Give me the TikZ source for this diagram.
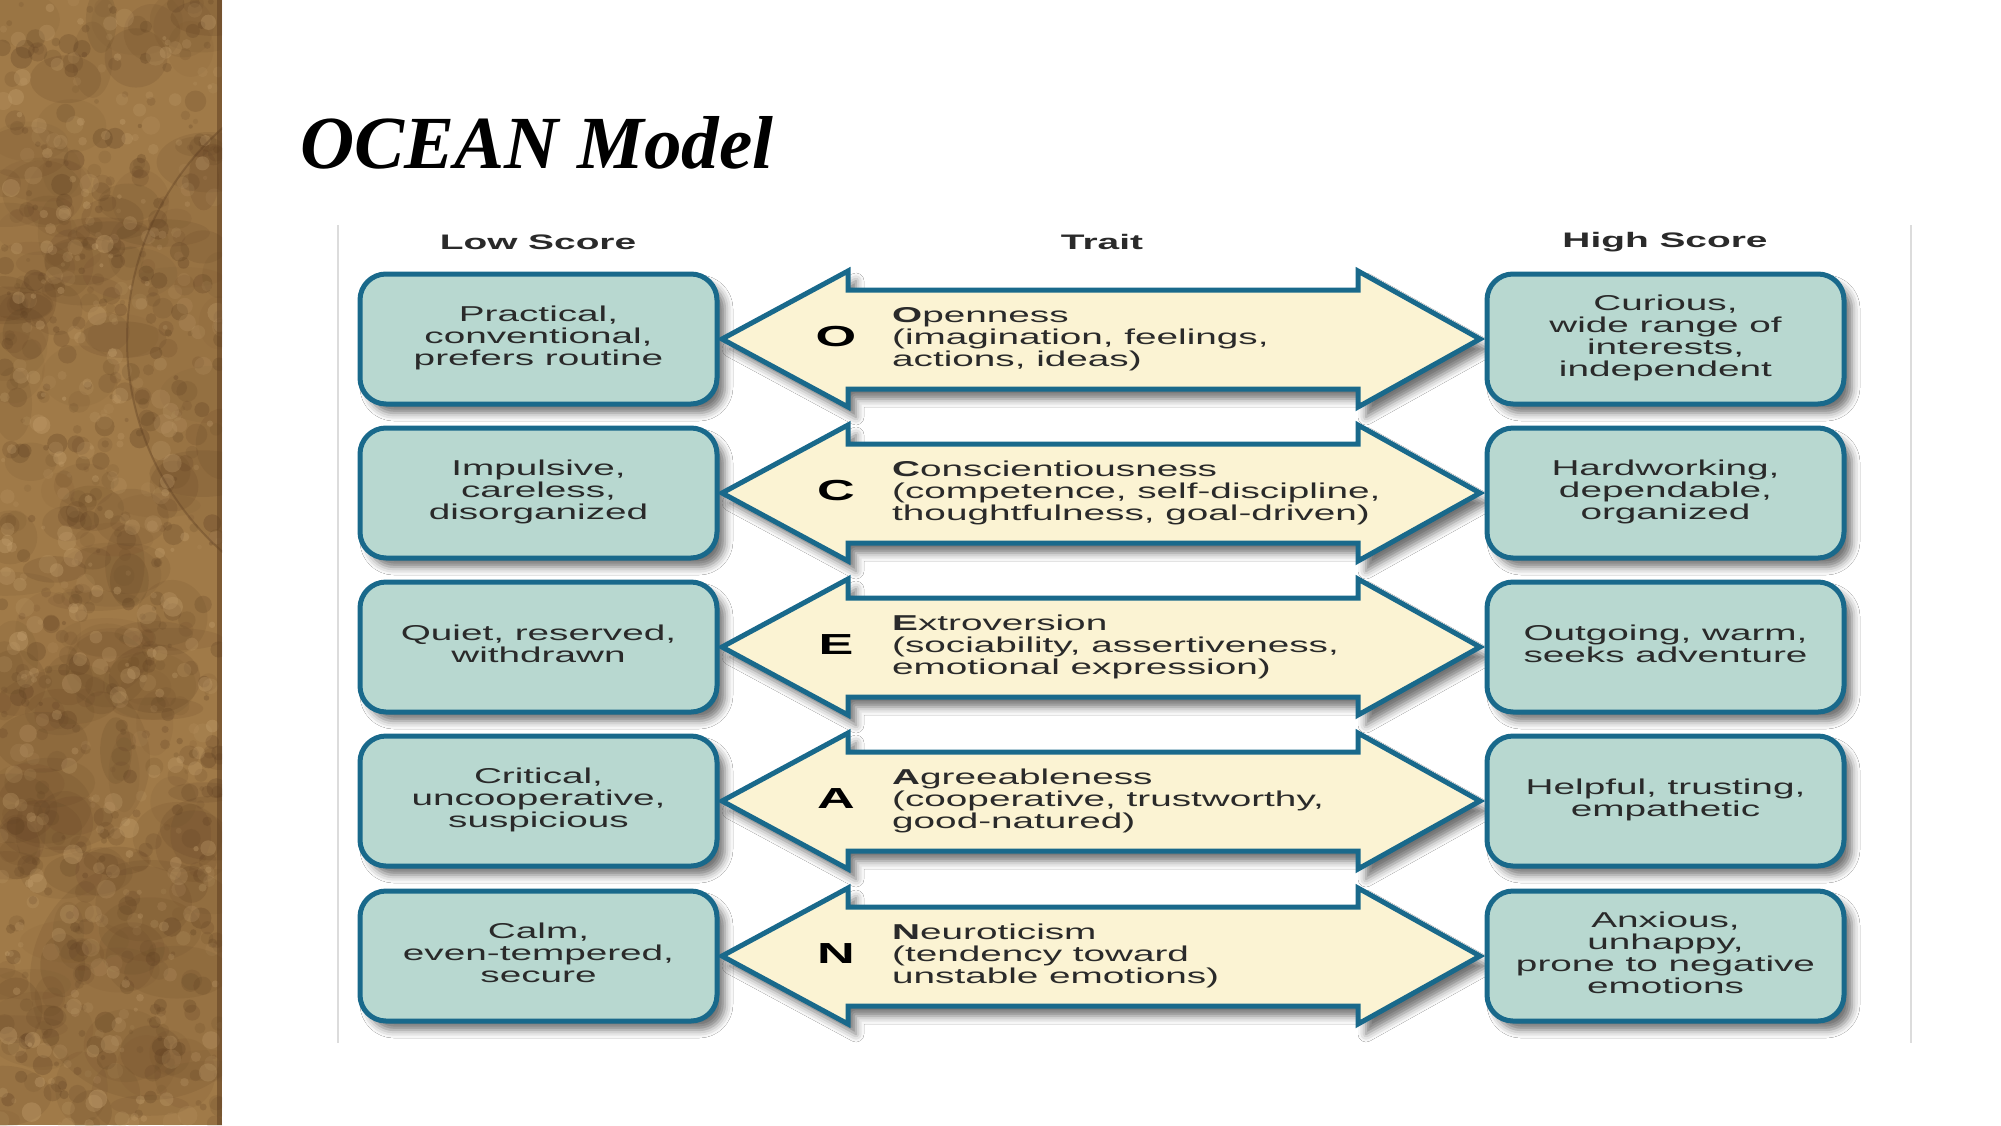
\documentclass[tikz,border=0pt]{standalone}
\usepackage{graphicx}
\usepackage{fontspec}
\setmainfont{Liberation Serif}
\newfontfamily\arialf{Liberation Sans}
\usetikzlibrary{shadows.blur}
\definecolor{boxfill}{HTML}{B8D8D0}
\definecolor{boxline}{HTML}{19698B}
\definecolor{arrfill}{HTML}{FBF3D3}
\definecolor{txt}{HTML}{2A2A2A}
\definecolor{framegrey}{HTML}{DCDCDC}
\definecolor{texbase}{HTML}{A07A48}
\definecolor{texdark}{HTML}{5B3C20}
\definecolor{texlight}{HTML}{C9A674}
\newcommand\wtxt[2]{\scalebox{1.8}[1]{\arialf\fontsize{21.5}{22.3}\selectfont\begin{tabular}{@{}#1@{}}#2\end{tabular}}}
\tikzset{
  scorebox/.style={draw=boxline, line width=5pt, fill=boxfill, rounded corners=26pt,
    minimum width=357pt, minimum height=130pt, inner sep=0pt, text=txt,
    blur shadow={shadow xshift=8pt, shadow yshift=-9pt, shadow blur radius=8pt, shadow opacity=55}},
  traitarrow/.style={draw=boxline, line width=5pt, fill=arrfill, line join=miter,
    blur shadow={shadow xshift=8pt, shadow yshift=-10pt, shadow blur radius=8pt, shadow opacity=55}},
  traittext/.style={anchor=west, inner sep=0pt, text=txt},
  bigletter/.style={inner sep=0pt, text=black, font=\arialf\bfseries\fontsize{29}{30}\selectfont},
  hdr/.style={inner sep=0pt, text=txt, font=\arialf\bfseries\fontsize{21}{25}\selectfont},
}
\newcommand\ocrow[6]{%
  \node[scorebox] (l#2) at (538.5,#1) {\wtxt{c}{#4}};
  \path[traitarrow] (722,#1) -- (848,#1-68) -- (848,#1-49) -- (1358,#1-49) -- (1358,#1-68)
    -- (1480,#1) -- (1358,#1+68) -- (1358,#1+50) -- (848,#1+50) -- (848,#1+68) -- cycle;
  \node[scorebox] (h#2) at (1665.5,#1) {\wtxt{c}{#6}};
  \node[bigletter] (k#2) at (836,#1-2) {\scalebox{1.8}[1]{#3}};
  \node[traittext] (t#2) at (892,#1+1) {\wtxt{l}{#5}};
}
\begin{document}
\begin{tikzpicture}[x=1pt,y=-1pt]
\useasboundingbox (0,0) rectangle (2001,1125);
\fill[white] (0,0) rectangle (2001,1125);
% textured side panel
\begin{scope}
\clip (0,0) rectangle (222,1125);
\fill[texbase] (0,0) rectangle (222,1125);
\pgfmathsetseed{11}
\foreach \i in {1,...,160}{
  \pgfmathsetmacro\xx{rnd*222}
  \pgfmathsetmacro\yy{rnd*1125}
  \pgfmathsetmacro\rx{15+rnd*40}
  \pgfmathsetmacro\ry{10+rnd*30}
  \pgfmathsetmacro\op{0.05+rnd*0.12}
  \fill[texdark, opacity=\op] (\xx,\yy) ellipse[x radius=\rx, y radius=\ry];
}
\foreach \i in {1,...,500}{
  \pgfmathsetmacro\xx{rnd*222}
  \pgfmathsetmacro\yy{rnd*1125}
  \pgfmathsetmacro\rr{2+rnd*9}
  \pgfmathsetmacro\op{0.08+rnd*0.2}
  \fill[texdark, opacity=\op] (\xx,\yy) circle[radius=\rr];
}
\foreach \i in {1,...,400}{
  \pgfmathsetmacro\xx{rnd*222}
  \pgfmathsetmacro\yy{rnd*1125}
  \pgfmathsetmacro\rr{2+rnd*8}
  \pgfmathsetmacro\op{0.1+rnd*0.25}
  \fill[texlight, opacity=\op] (\xx,\yy) circle[radius=\rr];
}
\fill[texdark, opacity=0.10] (410,340) circle[radius=283];
\draw[texdark, opacity=0.35, line width=2pt] (410,340) circle[radius=283];
\fill[texdark, opacity=0.12] (60,760) circle[radius=90];
\fill[texdark, opacity=0.12] (150,980) circle[radius=120];
\fill[texdark, opacity=0.5] (217,0) rectangle (222,1125);
\end{scope}
% title
\node[anchor=base west, inner sep=0pt, font=\bfseries\itshape\fontsize{75}{80}\selectfont] (title) at (300,168) {OCEAN Model};
% picture frame
\draw[framegrey, line width=2pt] (338,225) -- (338,1043);
\draw[framegrey, line width=2pt] (1911,225) -- (1911,1043);
% headers
\node[hdr] (hl) at (538,242) {\scalebox{1.85}[1]{Low Score}};
\node[hdr] (ht) at (1102,242) {\scalebox{1.85}[1]{Trait}};
\node[hdr] (hh) at (1665,242) {\scalebox{1.85}[1]{High Score}};
% rows
\ocrow{339}{O}{O}{Practical,\\conventional,\\prefers routine}{\textbf{O}penness\\(imagination, feelings,\\actions, ideas)}{Curious,\\wide range of\\interests,\\independent}
\ocrow{493}{C}{C}{Impulsive,\\careless,\\disorganized}{\textbf{C}onscientiousness\\(competence, self-discipline,\\thoughtfulness, goal-driven)}{Hardworking,\\dependable,\\organized}
\ocrow{647}{E}{E}{Quiet, reserved,\\withdrawn}{\textbf{E}xtroversion\\(sociability, assertiveness,\\emotional expression)}{Outgoing, warm,\\seeks adventure}
\ocrow{801}{A}{A}{Critical,\\uncooperative,\\suspicious}{\textbf{A}greeableness\\(cooperative, trustworthy,\\good-natured)}{Helpful, trusting,\\empathetic}
\ocrow{956}{N}{N}{Calm,\\even-tempered,\\secure}{\textbf{N}euroticism\\(tendency toward\\unstable emotions)}{Anxious,\\unhappy,\\prone to negative\\emotions}
\end{tikzpicture}
\end{document}
